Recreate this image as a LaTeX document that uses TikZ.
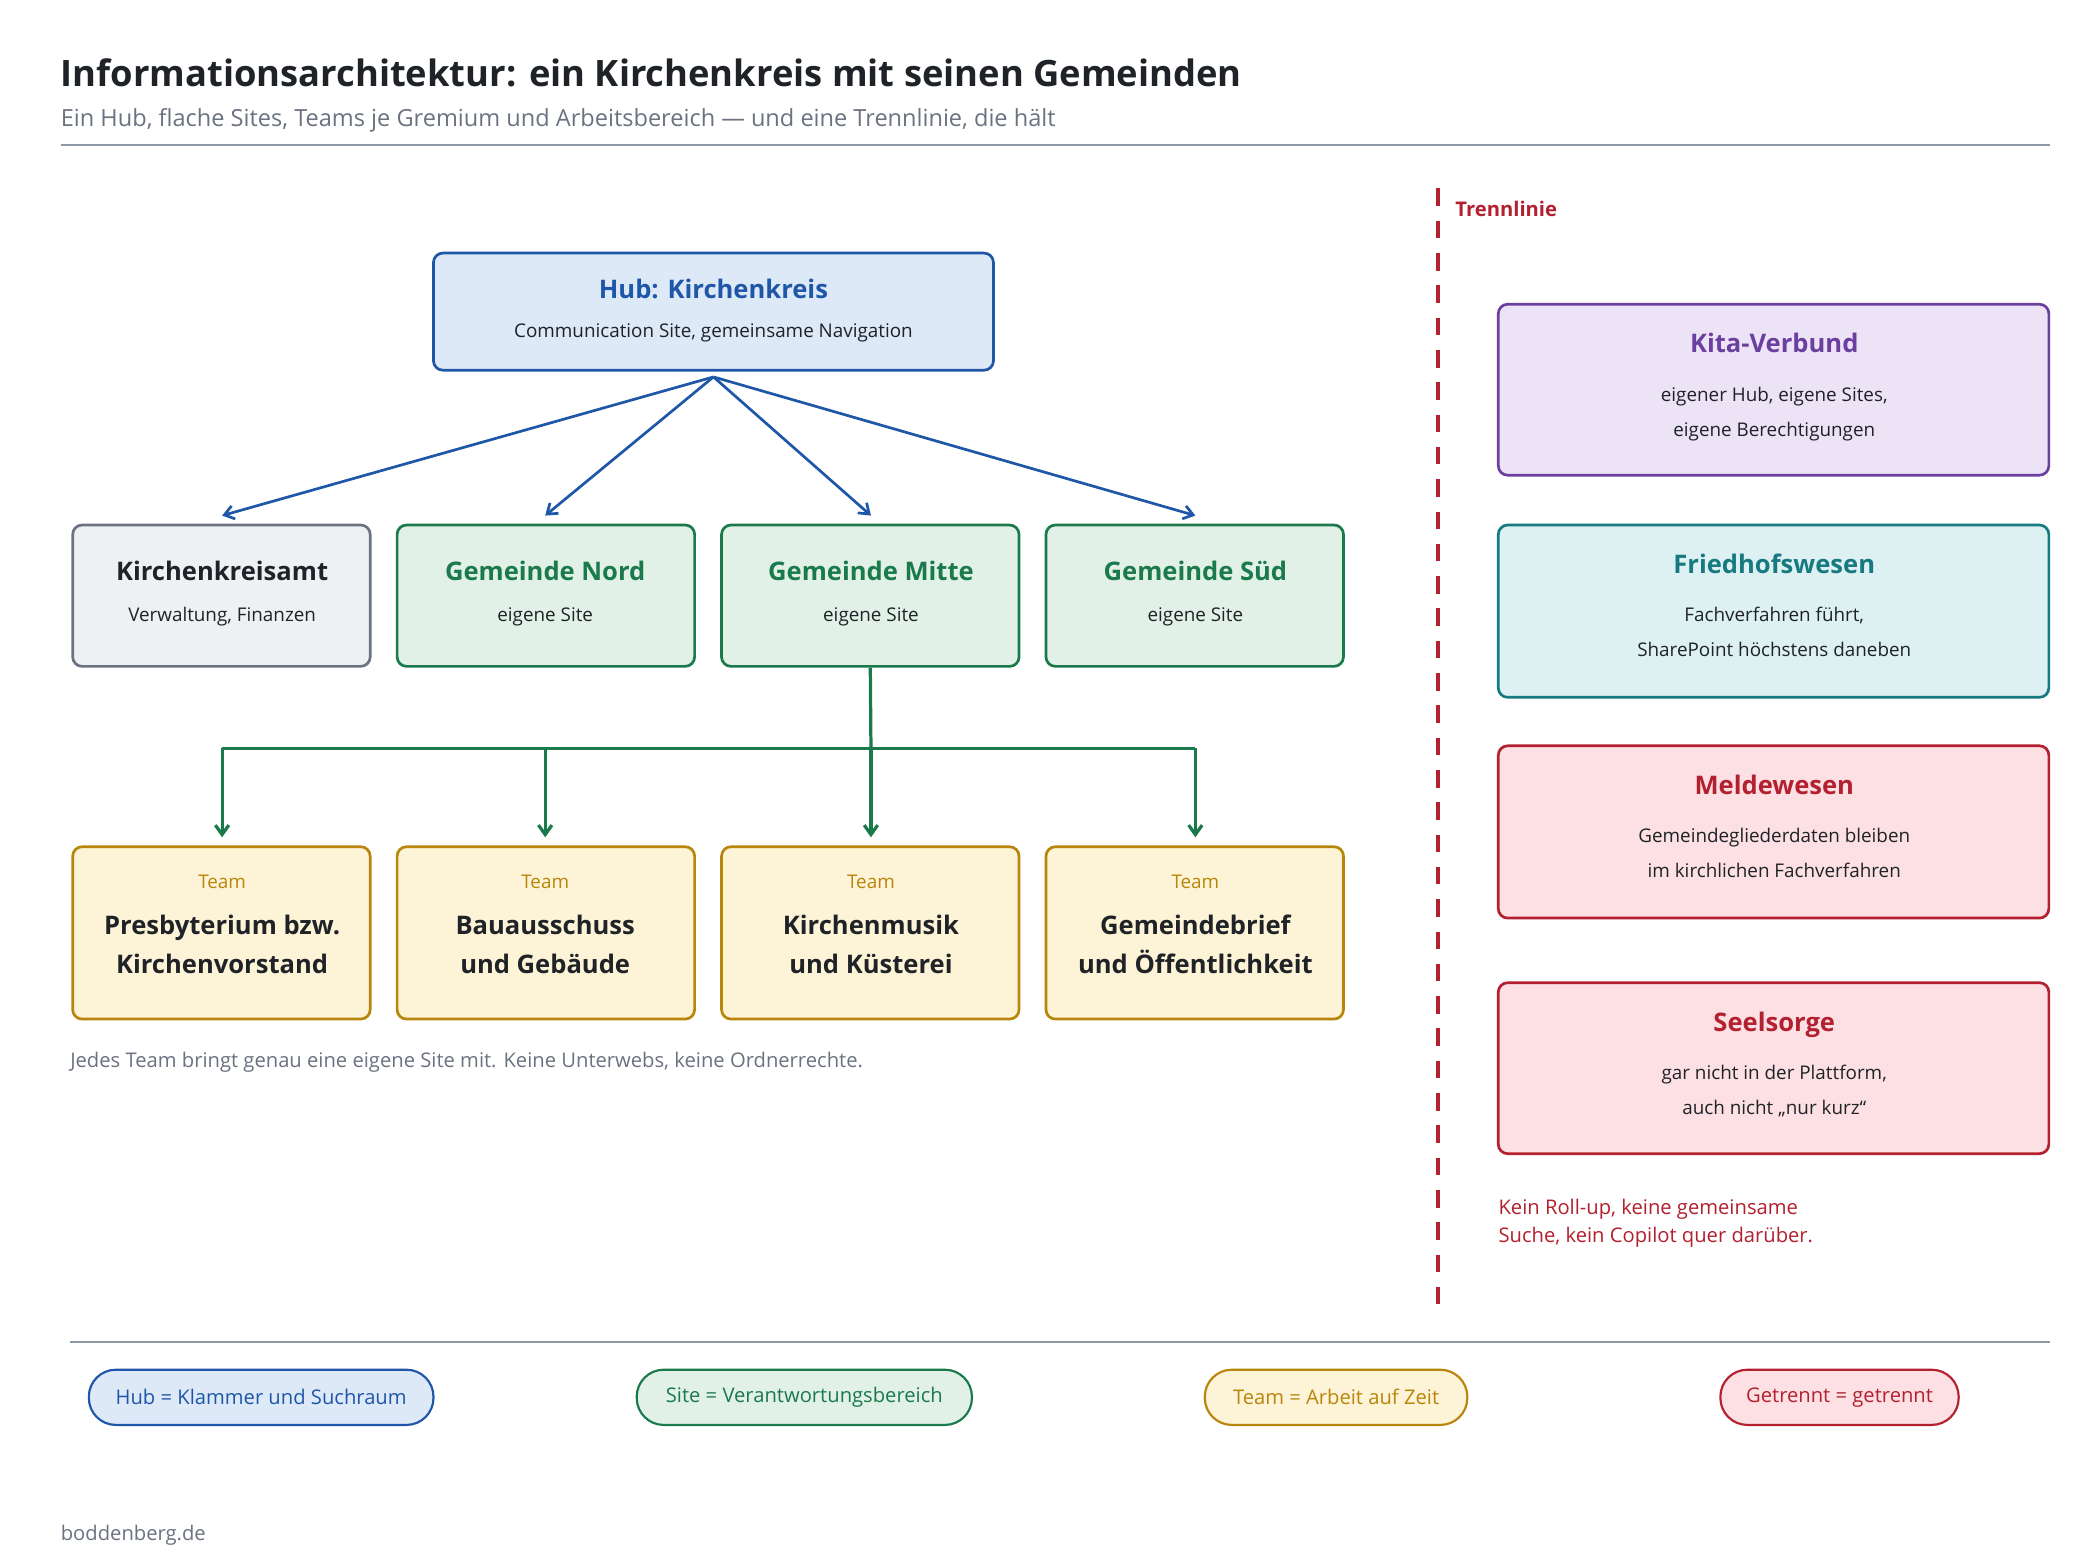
\documentclass[tikz,border=0pt]{standalone}
\usepackage{fontspec}
\setmainfont{Open Sans}
\usetikzlibrary{arrows.meta}
\definecolor{ink}{HTML}{1F2328}
\definecolor{muted}{HTML}{6B7280}
\definecolor{rule}{HTML}{8E98A6}
\definecolor{hubB}{HTML}{1F57A8}\definecolor{hubF}{HTML}{DDE9F7}
\definecolor{grayB}{HTML}{6B7280}\definecolor{grayF}{HTML}{EEF0F3}
\definecolor{siteB}{HTML}{1A7A4C}\definecolor{siteF}{HTML}{E1F1E7}
\definecolor{teamB}{HTML}{B8860B}\definecolor{teamF}{HTML}{FDF3D6}
\definecolor{purB}{HTML}{6B3FA0}\definecolor{purF}{HTML}{ECE4F6}
\definecolor{tealB}{HTML}{167A80}\definecolor{tealF}{HTML}{DDF0F2}
\definecolor{redB}{HTML}{B3202F}\definecolor{redF}{HTML}{FCE0E3}
\tikzset{
 box/.style={draw, line width=2pt, rounded corners=7pt, inner sep=0pt},
 t/.style={inner sep=0pt, anchor=base west},
 tc/.style={inner sep=0pt, anchor=base, align=center},
 pill/.style={draw, line width=1.6pt, rounded corners=20pt, minimum height=41pt, inner sep=0pt, font=\fontsize{15}{18}\selectfont},
 harr/.style={hubB, line width=2pt, -{Straight Barb[length=7pt,width=10pt]}},
 sarr/.style={siteB, line width=2.4pt, -{Straight Barb[length=7pt,width=10pt]}},
}
\newcommand{\bx}[6]{% name, x1,y1,x2,y2, style
 \node[box,#6, minimum width={#4-#2}, minimum height={#5-#3}] (#1) at ({(#2+#4)/2},{-(#3+#5)/2}) {};}
\begin{document}
\begin{tikzpicture}[x=1pt,y=1pt]
\useasboundingbox (0,0) rectangle (1560,-1160);
\fill[white] (0,0) rectangle (1560,-1160);
\node[t,ink,font=\fontsize{27}{30}\selectfont\bfseries] (title) at (45,-64) {Informationsarchitektur: ein Kirchenkreis mit seinen Gemeinden};
\node[t,muted,font=\fontsize{17.5}{20}\selectfont] (sub) at (45,-94) {Ein Hub, flache Sites, Teams je Gremium und Arbeitsbereich — und eine Trennlinie, die hält};
\coordinate (r1a) at (45,-108); \coordinate (r1b) at (1523,-108);
\draw[rule,line width=1.6pt] (r1a)--(r1b);
% hub
\bx{hub}{322}{188}{738}{275}{draw=hubB,fill=hubF}
\node[tc,hubB,font=\fontsize{19}{22}\selectfont\bfseries] (hubT) at (530,-222) {Hub: Kirchenkreis};
\node[tc,ink,font=\fontsize{14}{16}\selectfont] (hubS) at (530,-251) {Communication Site, gemeinsame Navigation};
% row 2
\bx{amt}{54}{390}{275}{495}{draw=grayB,fill=grayF}
\bx{nord}{295}{390}{516}{495}{draw=siteB,fill=siteF}
\bx{mitte}{536}{390}{757}{495}{draw=siteB,fill=siteF}
\bx{sued}{777}{390}{998}{495}{draw=siteB,fill=siteF}
\node[tc,ink,font=\fontsize{19}{22}\selectfont\bfseries] (amtT) at (165,-431) {Kirchenkreisamt};
\node[tc,ink,font=\fontsize{14}{16}\selectfont] (amtS) at (165,-462) {Verwaltung, Finanzen};
\foreach \n/\x/\l in {nord/405/Gemeinde Nord, mitte/647/Gemeinde Mitte, sued/888/Gemeinde Süd}{
 \node[tc,siteB,font=\fontsize{19}{22}\selectfont\bfseries] (\n T) at (\x,-431) {\l};
 \node[tc,ink,font=\fontsize{14}{16}\selectfont] (\n S) at (\x,-462) {eigene Site};}
\coordinate (hb) at (530,-280);
\foreach \x/\n in {165/a1,405/a2,647/a3,888/a4}{\coordinate (\n) at (\x,-383); \draw[harr] (hb)--(\n);}
% teams
\bx{tp}{54}{629}{275}{757}{draw=teamB,fill=teamF}
\bx{tb}{295}{629}{516}{757}{draw=teamB,fill=teamF}
\bx{tk}{536}{629}{757}{757}{draw=teamB,fill=teamF}
\bx{tg}{777}{629}{998}{757}{draw=teamB,fill=teamF}
\foreach \n/\x/\a/\b in {tp/165/Presbyterium bzw./Kirchenvorstand, tb/405/Bauausschuss/und Gebäude, tk/647/Kirchenmusik/und Küsterei, tg/888/Gemeindebrief/und Öffentlichkeit}{
 \node[tc,teamB,font=\fontsize{14}{16}\selectfont] (\n L) at (\x,-660) {Team};
 \node[tc,ink,font=\fontsize{19}{22}\selectfont\bfseries] (\n A) at (\x,-694) {\a};
 \node[tc,ink,font=\fontsize{19}{22}\selectfont\bfseries] (\n B) at (\x,-723) {\b};}
\coordinate (j) at (647,-556);
\draw[siteB,line width=2.4pt] (mitte.south)--(j);
\draw[siteB,line width=2.4pt] (165,-556)--(888,-556);
\foreach \x/\n in {165/b1,405/b2,647/b3,888/b4}{\coordinate (\n s) at (\x,-556);\coordinate (\n) at (\x,-622); \draw[sarr] (\n s)--(\n);}
\node[t,muted,font=\fontsize{15}{18}\selectfont] (note) at (52,-793) {Jedes Team bringt genau eine eigene Site mit. Keine Unterwebs, keine Ordnerrechte.};
% separator
\coordinate (d1) at (1068,-140); \coordinate (d2) at (1068,-975);
\draw[redB,line width=3pt,dash pattern=on 13pt off 11pt] (d1)--(d2);
\node[t,redB,font=\fontsize{15}{18}\selectfont\bfseries] (trenn) at (1081,-161) {Trennlinie};
\bx{kita}{1113}{226}{1522}{353}{draw=purB,fill=purF}
\bx{fried}{1113}{390}{1522}{518}{draw=tealB,fill=tealF}
\bx{melde}{1113}{554}{1522}{682}{draw=redB,fill=redF}
\bx{seel}{1113}{730}{1522}{857}{draw=redB,fill=redF}
\foreach \n/\y/\c/\h/\a/\b in {kita/226/purB/Kita-Verbund/{eigener Hub, eigene Sites,}/eigene Berechtigungen,
 fried/390/tealB/Friedhofswesen/{Fachverfahren führt,}/SharePoint höchstens daneben,
 melde/554/redB/Meldewesen/Gemeindegliederdaten bleiben/im kirchlichen Fachverfahren,
 seel/730/redB/Seelsorge/{gar nicht in der Plattform,}/auch nicht „nur kurz“}{
 \node[tc,\c,font=\fontsize{19}{22}\selectfont\bfseries] (\n T) at (1318,-\y-36) {\h};
 \node[tc,ink,font=\fontsize{14}{16}\selectfont] (\n A) at (1318,-\y-72) {\a};
 \node[tc,ink,font=\fontsize{14}{16}\selectfont] (\n B) at (1318,-\y-98) {\b};}
\node[t,redB,font=\fontsize{15}{18}\selectfont] (rn1) at (1113,-902) {Kein Roll-up, keine gemeinsame};
\node[t,redB,font=\fontsize{15}{18}\selectfont] (rn2) at (1113,-923) {Suche, kein Copilot quer darüber.};
\coordinate (r2a) at (52,-997); \coordinate (r2b) at (1523,-997);
\draw[rule,line width=1.6pt] (r2a)--(r2b);
\node[pill,draw=hubB,fill=hubF,text=hubB,minimum width=256pt] (l1) at (194,-1038) {Hub = Klammer und Suchraum};
\node[pill,draw=siteB,fill=siteF,text=siteB,minimum width=249pt] (l2) at (597.5,-1038) {Site = Verantwortungsbereich};
\node[pill,draw=teamB,fill=teamF,text=teamB,minimum width=195pt] (l3) at (992.5,-1038) {Team = Arbeit auf Zeit};
\node[pill,draw=redB,fill=redF,text=redB,minimum width=177pt] (l4) at (1366.5,-1038) {Getrennt = getrennt};
\node[t,muted,font=\fontsize{15}{18}\selectfont] (foot) at (45,-1144) {boddenberg.de};
\end{tikzpicture}
\end{document}
